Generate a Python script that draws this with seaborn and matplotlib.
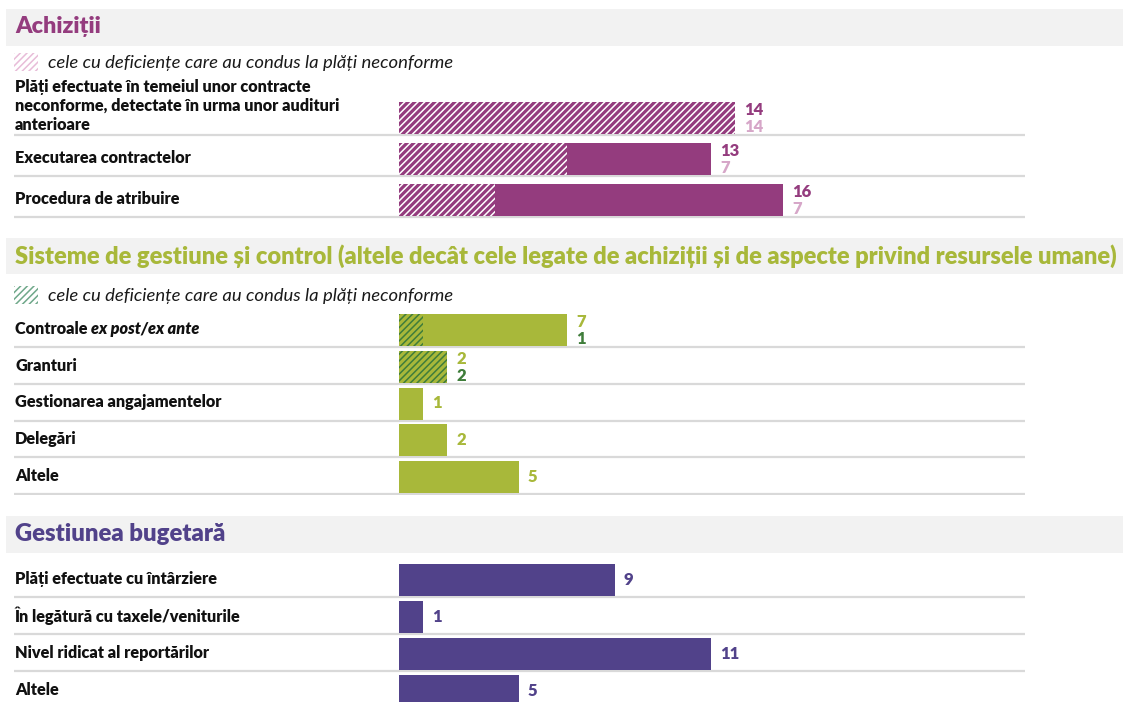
import matplotlib
matplotlib.use("Agg")
import matplotlib.pyplot as plt
import matplotlib.transforms as mtransforms
from matplotlib.patches import Rectangle
import seaborn as sns
import pandas as pd

# ---------------- data ----------------
acq_categories = ["Plăți efectuate în temeiul unor contracte\nneconforme, detectate în urma unor audituri\nanterioare",
                  "Executarea contractelor", "Procedura de atribuire"]
acq_total = [14, 13, 16]
acq_hatched = [14, 7, 4]
acq_total_labels = ["14", "13", "16"]
acq_hatched_labels = ["14", "7", "7"]

sms_categories = ["Controale ex post/ex ante", "Granturi", "Gestionarea angajamentelor", "Delegări", "Altele"]
sms_total = [7, 2, 1, 2, 5]
sms_hatched = [1, 2, 0, 0, 0]
sms_total_labels = ["7", "2", "1", "2", "5"]
sms_hatched_labels = ["1", "2", None, None, None]

bud_categories = ["Plăți efectuate cu întârziere", "În legătură cu taxele/veniturile",
                  "Nivel ridicat al reportărilor", "Altele"]
bud_total = [9, 1, 13, 5]
bud_total_labels = ["9", "1", "11", "5"]

titles = ["Achiziții",
          "Sisteme de gestiune și control (altele decât cele legate de achiziții și de aspecte privind resursele umane)",
          "Gestiunea bugetară"]
legend_text = "cele cu deficiențe care au condus la plăți neconforme"

# ---------------- style ----------------
PURPLE = "#943c7e"
PINK = "#d6a6c8"
PINK_HATCH = "#e8bcd8"
GREEN = "#a8b83a"
DKGREEN = "#3f7d3a"
GREEN_HATCH = "#6fa88a"
INDIGO = "#51428a"
BAND = "#f2f2f2"
SEP = "#d9d9d9"
HATCH = "/////"
WEIGHT = "heavy"
LAB = 11.7

sns.set_theme(style="white")
plt.rcParams['font.family'] = ['Lato', 'DejaVu Sans']
plt.rcParams['hatch.linewidth'] = 1.1

W, H, DPI = 1123, 702, 100
fig = plt.figure(figsize=(W / DPI, H / DPI), dpi=DPI)
fig.patch.set_facecolor("white")

X0, PXU = 399, 24.0
XL, XR = 14, 1025
PT = 72 / DPI  # points per pixel


def fy(y):
    return 1 - y / H


def header(y0, y1, text, color, size, baseline):
    fig.patches.append(Rectangle((6 / W, fy(y1)), (W - 6) / W, (y1 - y0) / H,
                                 transform=fig.transFigure, facecolor=BAND, edgecolor="none", zorder=0))
    fig.text(15 / W, fy(baseline), text, color=color, fontsize=size, fontweight=WEIGHT,
             va="baseline", ha="left")


def legend(y_top, hatch_color, baseline):
    fig.patches.append(Rectangle((14 / W, fy(y_top + 18)), 24 / W, 18 / H, transform=fig.transFigure,
                                 facecolor="white", edgecolor=hatch_color, lw=0, hatch=HATCH, zorder=1))
    fig.text(48 / W, fy(baseline), legend_text, fontsize=13.3, fontstyle="italic", color="#1a1a1a",
             va="baseline", ha="left")


def section(cats, totals, color, centre0, pitch, hatched=None, hatch_face=None, hatch_col=None):
    n = len(cats)
    top = centre0 - pitch / 2
    bottom = top + n * pitch
    ax = fig.add_axes([XL / W, fy(bottom), (XR - XL) / W, (bottom - top) / H])
    df = pd.DataFrame({"cat": cats, "val": totals})
    width = 32 / pitch
    sns.barplot(data=df, x="val", y="cat", orient="h", color=color, saturation=1,
                width=width, ax=ax, linewidth=0, errorbar=None)
    if hatched is not None:
        k = len(ax.patches)
        dfh = pd.DataFrame({"cat": cats, "val": hatched})
        sns.barplot(data=dfh, x="val", y="cat", orient="h", color=hatch_face, saturation=1,
                    width=width, ax=ax, linewidth=0, errorbar=None)
        for p in ax.patches[k:]:
            p.set_hatch(HATCH)
            p.set_edgecolor(hatch_col)
            p.set_linewidth(0)
    ax.set_xlim((XL - X0) / PXU, (XR - X0) / PXU)
    ax.set_ylim(n - 0.5, -0.5)
    ax.axis("off")
    sep = 17 / pitch
    for i in range(n):
        ax.axhline(i + sep, color=SEP, lw=1.6, zorder=0)
    return ax


def value_labels(ax, vals, labels, color, dy=0, size=12):
    for i, (v, lab) in enumerate(zip(vals, labels)):
        if lab is None:
            continue
        ax.annotate(lab, xy=(v, i), xytext=(9 * PT, -dy * PT), textcoords="offset points",
                    fontsize=size, fontweight=WEIGHT, color=color, va="center", ha="left")


def cat_label(ax, tr, i, text, dy=1, **kw):
    return ax.annotate(text, xy=(0.001, i), xycoords=tr, xytext=(0, dy * PT), textcoords="offset points",
                       fontsize=LAB, fontweight=WEIGHT, color="#111111", va="center", ha="left", **kw)


# ---- Section 1 ----
header(9, 46, titles[0], PURPLE, 16.8, 33)
legend(53, PINK_HATCH, 68)
ax1 = section(acq_categories, acq_total, PURPLE, 118, 41, acq_hatched, PURPLE, "white")
tr1 = mtransforms.blended_transform_factory(ax1.transAxes, ax1.transData)
for i, c in enumerate(acq_categories):
    cat_label(ax1, tr1, i, c, dy=(12 if i == 0 else 1), linespacing=1.22)
value_labels(ax1, acq_total, acq_total_labels, PURPLE, dy=-8)
value_labels(ax1, acq_total, acq_hatched_labels, PINK, dy=9)

# ---- Section 2 ----
header(238, 274, titles[1], GREEN, 17.0, 264)
legend(286, GREEN_HATCH, 301)
ax2 = section(sms_categories, sms_total, GREEN, 330, 36.75, sms_hatched, GREEN, DKGREEN)
tr2 = mtransforms.blended_transform_factory(ax2.transAxes, ax2.transData)
for i, c in enumerate(sms_categories):
    if i == 0:
        first = cat_label(ax2, tr2, 0, "Controale ")
        ax2.annotate("ex post/ex ante", xy=(1, 0), xycoords=first, fontsize=LAB, fontweight=WEIGHT,
                     fontstyle="italic", color="#111111", va="bottom", ha="left")
    else:
        cat_label(ax2, tr2, i, c)
two = [lab is not None for lab in sms_hatched_labels]
value_labels(ax2, sms_total, [l if t else None for l, t in zip(sms_total_labels, two)], GREEN, dy=-8)
value_labels(ax2, sms_total, [None if t else l for l, t in zip(sms_total_labels, two)], GREEN, dy=0)
value_labels(ax2, sms_total, sms_hatched_labels, DKGREEN, dy=9)

# ---- Section 3 ----
header(516, 553, titles[2], INDIGO, 17.2, 541)
ax3 = section(bud_categories, bud_total, INDIGO, 580, 37)
tr3 = mtransforms.blended_transform_factory(ax3.transAxes, ax3.transData)
for i, c in enumerate(bud_categories):
    cat_label(ax3, tr3, i, c)
value_labels(ax3, bud_total, bud_total_labels, INDIGO, dy=0)

fig.savefig("out.png", dpi=DPI, facecolor="white")
